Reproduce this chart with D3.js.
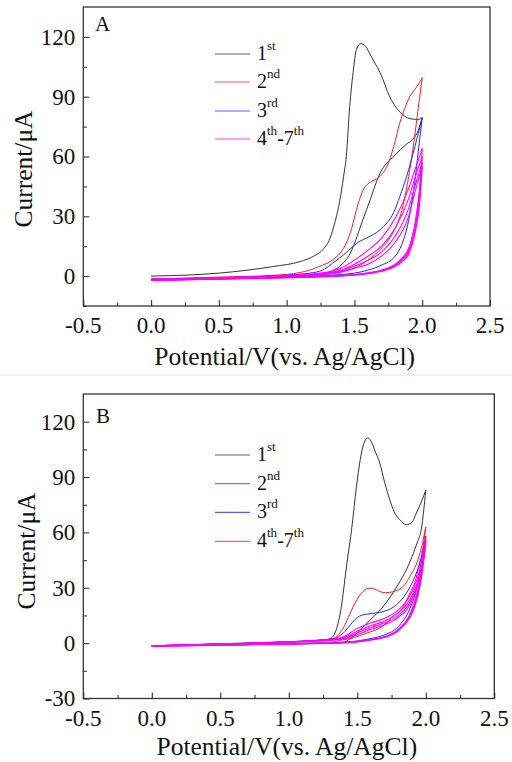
<!DOCTYPE html>
<html>
<head>
<meta charset="utf-8">
<script src="https://cdn.jsdelivr.net/npm/d3@7"></script>
<style>
  body { margin: 0; background: #fff; }
  svg { display: block; }
  text { font-family: "Liberation Serif", "Times New Roman", serif; fill: #111; }
</style>
</head>
<body>
<svg id="chart" width="512" height="762"></svg>
<script>
// ---- axis ticks and labels ----
const xTicks = [-0.5, 0, 0.5, 1, 1.5, 2, 2.5];
const xTickLabels = ["-0.5", "0.0", "0.5", "1.0", "1.5", "2.0", "2.5"];
const xMinorTicks = [-0.25, 0.25, 0.75, 1.25, 1.75, 2.25];
const yTicksA = [0, 30, 60, 90, 120];
const yMinorTicksA = [-15, 15, 45, 75, 105];
const yTicksB = [-30, 0, 30, 60, 90, 120];
const yMinorTicksB = [-15, 15, 45, 75, 105];
const panelLabels = ["A", "B"];
const xTitle = "Potential/V(vs. Ag/AgCl)";
const yTitle = "Current/\u03bcA";

// legend entries: [main, superscript, main, superscript]
const legendLabels = [["1", "st"], ["2", "nd"], ["3", "rd"], ["4", "th", "-7", "th"]];
const seriesColors = ["#333333", "#ff1a1a", "#2424ff", "#ff00ff"];

// ---- panel A: cyclic voltammograms, [potential V, current µA] ----
const a1Fwd = [[0,0],[0.5,1.5],[0.9,4.8],[1.1,7.3],[1.2,10],[1.27,13.5],[1.32,19],[1.36,28],[1.39,37],[1.42,50],[1.44,60],[1.465,85],[1.49,102],[1.515,113.8],[1.547,116.6],[1.58,115.5],[1.61,112],[1.65,107],[1.69,102],[1.76,90],[1.84,82],[1.91,79],[1.97,78.6],[2.0,79.5]];
const a1Rev = [[2.0,79.5],[1.97,73],[1.93,68.6],[1.88,66],[1.84,63.5],[1.79,60],[1.74,56.8],[1.69,51.8],[1.66,46.8],[1.62,39],[1.59,33.4],[1.55,26],[1.52,19.9],[1.47,11.6],[1.43,7.5],[1.39,4.8],[1.34,2.8],[1.29,1.5],[1.2,0.6],[1.1,0],[0.8,-0.6],[0.5,-1.1],[0,-2]];
const a2Fwd = [[0,-1.5],[0.5,-0.5],[0.9,0.4],[1.1,1.8],[1.24,4.8],[1.34,8.2],[1.4,12],[1.44,16.6],[1.48,24],[1.515,33.4],[1.545,40],[1.57,44],[1.61,46.8],[1.69,50.1],[1.74,55],[1.79,65],[1.835,77],[1.87,84],[1.91,90.3],[1.96,95],[2.0,99.5]];
const a2Rev = [[2.0,99.5],[1.97,84],[1.94,68],[1.9,50],[1.85,33],[1.8,24],[1.75,18],[1.7,14],[1.6,8],[1.5,4],[1.4,2],[1.3,1],[1.1,0],[0.5,-1.2],[0,-1.8]];
const a3Fwd = [[0,-1.5],[0.5,-0.8],[1.0,0.5],[1.2,1.8],[1.28,3.5],[1.34,6.5],[1.42,10.7],[1.49,14.9],[1.54,17.5],[1.59,19.1],[1.69,23.3],[1.74,26.7],[1.79,32],[1.835,40],[1.885,50],[1.946,65],[2.0,79.5]];
const a3Rev = [[2.0,79.5],[1.97,62],[1.95,50],[1.9,28],[1.85,16],[1.8,10],[1.7,5.5],[1.6,3],[1.5,1.5],[1.4,0.8],[1.2,0],[0.5,-1.3],[0,-2]];
const a4to7Fwd = [
  [[0,-1.5],[0.5,-0.8],[1.0,0.3],[1.2,1.2],[1.3,2],[1.4,4],[1.5,8],[1.6,13],[1.7,19],[1.8,29],[1.9,44],[1.95,54],[2.0,64]],
  [[0,-1.6],[0.5,-0.9],[1.0,0.2],[1.2,0.9],[1.3,1.6],[1.4,3],[1.5,6],[1.6,10],[1.7,15],[1.8,24],[1.9,39],[1.95,50],[2.0,60]],
  [[0,-1.7],[0.5,-1],[1.0,0.1],[1.2,0.7],[1.3,1.3],[1.4,2.5],[1.5,5],[1.6,8],[1.7,12],[1.8,20],[1.9,34],[1.95,46],[2.0,57]],
  [[0,-1.8],[0.5,-1.1],[1.0,0],[1.2,0.5],[1.3,1],[1.4,2],[1.5,4],[1.6,6],[1.7,10],[1.8,17],[1.9,30],[1.95,43],[2.0,55]]
];
const a4to7Rev = [
  [[2.0,64],[1.98,44],[1.95,28],[1.9,14],[1.85,9],[1.8,6],[1.7,3],[1.6,1.6],[1.5,0.8],[1.3,0],[1.0,-0.6],[0.5,-1.3],[0,-2]],
  [[2.0,60],[1.98,41],[1.95,26],[1.9,13],[1.85,8.4],[1.8,5.6],[1.7,2.8],[1.6,1.4],[1.5,0.7],[1.3,-0.1],[1.0,-0.7],[0.5,-1.4],[0,-2.1]],
  [[2.0,57],[1.98,38],[1.95,24],[1.9,12],[1.85,7.8],[1.8,5.2],[1.7,2.6],[1.6,1.3],[1.5,0.6],[1.3,-0.2],[1.0,-0.8],[0.5,-1.5],[0,-2.2]],
  [[2.0,55],[1.98,36],[1.95,22.5],[1.9,11],[1.85,7.2],[1.8,4.8],[1.7,2.4],[1.6,1.2],[1.5,0.5],[1.3,-0.2],[1.0,-0.8],[0.5,-1.5],[0,-2.2]]
];

// ---- panel B ----
const b1Fwd = [[0,-1.5],[0.5,-0.3],[1.0,0.8],[1.2,1.4],[1.28,2],[1.31,2.8],[1.34,6],[1.36,10.8],[1.38,18],[1.397,27],[1.415,38],[1.433,48],[1.458,61.4],[1.494,84.9],[1.53,103],[1.555,109.5],[1.574,111.2],[1.6,109.5],[1.63,104],[1.664,97.6],[1.7,87],[1.737,77.7],[1.77,71],[1.81,66.9],[1.858,64.2],[1.9,65.5],[1.931,70.5],[1.97,77],[2.0,83]];
const b1Rev = [[2.0,83],[1.985,72],[1.968,62],[1.94,55],[1.9,47],[1.86,40],[1.8,32],[1.74,25],[1.68,19],[1.6,13],[1.52,7],[1.45,2.5],[1.4,0.5],[1.3,-0.2],[1.0,-0.5],[0.5,-1],[0,-1.5]];
const b2Fwd = [[0,-1.5],[0.5,-0.5],[1.0,0.7],[1.25,1.8],[1.324,2.5],[1.36,4.5],[1.397,8.1],[1.435,14],[1.47,19.8],[1.505,24.5],[1.542,28],[1.591,29.8],[1.63,29.2],[1.664,28],[1.7,27.3],[1.737,27.5],[1.78,28.3],[1.81,29.3],[1.85,32],[1.883,36.1],[1.943,45.2],[1.975,54],[2.0,63]];
const b2Rev = [[2.0,63],[1.975,50],[1.955,43],[1.92,33],[1.883,27],[1.83,19],[1.76,14.4],[1.68,9],[1.567,5.4],[1.45,2.5],[1.37,1.5],[1.3,0.3],[1.0,-0.4],[0.5,-1],[0,-1.5]];
const b3Fwd = [[0,-1.5],[0.5,-0.5],[1.0,0.7],[1.25,1.8],[1.33,2.5],[1.397,5.4],[1.45,10],[1.494,13.6],[1.54,15.3],[1.591,15.9],[1.688,17.1],[1.74,18.5],[1.786,20.8],[1.858,27.1],[1.931,38],[1.97,47],[2.0,58]];
const b3Rev = [[2.0,58],[1.96,38],[1.92,26],[1.88,18],[1.8,9],[1.7,4.5],[1.6,2.5],[1.5,1.2],[1.4,0.5],[1.2,0],[1.0,-0.3],[0.5,-1],[0,-1.5]];
const b4to7Fwd = [
  [[0,-1.5],[0.5,-0.5],[1.0,0.7],[1.25,1.8],[1.35,2.5],[1.4,3.5],[1.5,8],[1.6,11],[1.7,13.5],[1.8,18],[1.9,28],[1.95,38],[2.0,57]],
  [[0,-1.5],[0.5,-0.5],[1.0,0.6],[1.25,1.6],[1.35,2.2],[1.45,4.5],[1.5,6.5],[1.6,9.5],[1.7,12],[1.8,16.5],[1.9,26],[1.95,36],[2.0,56]],
  [[0,-1.5],[0.5,-0.5],[1.0,0.5],[1.25,1.4],[1.35,2],[1.45,3.8],[1.5,5.5],[1.6,8.5],[1.7,11],[1.8,15],[1.9,24.5],[1.95,35],[2.0,55]],
  [[0,-1.5],[0.5,-0.5],[1.0,0.4],[1.25,1.2],[1.35,1.8],[1.45,3.2],[1.5,4.5],[1.6,7.5],[1.7,10],[1.8,14],[1.9,23],[1.95,34],[2.0,54]]
];
const b4to7Rev = [
  [[2.0,57],[1.96,35],[1.92,23],[1.88,15],[1.8,7.5],[1.7,3.5],[1.6,2],[1.5,1],[1.4,0.4],[1.2,0],[1.0,-0.3],[0.5,-1],[0,-1.5]],
  [[2.0,56],[1.96,34],[1.92,22],[1.88,14.5],[1.8,7.2],[1.7,3.4],[1.6,1.9],[1.5,0.9],[1.4,0.3],[1.2,-0.1],[1.0,-0.4],[0.5,-1.1],[0,-1.6]],
  [[2.0,55],[1.96,33],[1.92,21],[1.88,14],[1.8,7],[1.7,3.3],[1.6,1.8],[1.5,0.8],[1.4,0.2],[1.2,-0.1],[1.0,-0.4],[0.5,-1.1],[0,-1.6]],
  [[2.0,54],[1.96,32],[1.92,20],[1.88,13.5],[1.8,6.8],[1.7,3.2],[1.6,1.7],[1.5,0.7],[1.4,0.2],[1.2,-0.1],[1.0,-0.4],[0.5,-1.1],[0,-1.6]]
];

// ---- layout ----
const svg = d3.select("#chart");
svg.append("rect").attr("width", 512).attr("height", 762).attr("fill", "#fff");
svg.append("line").attr("x1", 0).attr("x2", 512).attr("y1", 375).attr("y2", 375)
  .attr("stroke", "#ececec").attr("stroke-width", 1.5);

const panels = [
  {
    label: panelLabels[0], box: { left: 83.3, right: 490, top: 7, bottom: 306 },
    yDomain: [-15, 135], yTicks: yTicksA, yMinor: yMinorTicksA,
    cycles: [[a1Fwd, a1Rev, 0], [a2Fwd, a2Rev, 1], [a3Fwd, a3Rev, 2]]
      .concat(a4to7Fwd.map((f, i) => [f, a4to7Rev[i], 3])),
    legendY: [54, 82, 111, 139], legendX: 215,
    xTitleY: 365, yTitleX: 32, yTitleY: 169, tickLabelY: 333, panelLabelPos: [95, 31]
  },
  {
    label: panelLabels[1], box: { left: 83.3, right: 494.3, top: 394, bottom: 698.5 },
    yDomain: [-30, 135], yTicks: yTicksB, yMinor: yMinorTicksB,
    cycles: [[b1Fwd, b1Rev, 0], [b2Fwd, b2Rev, 1], [b3Fwd, b3Rev, 2]]
      .concat(b4to7Fwd.map((f, i) => [f, b4to7Rev[i], 3])),
    legendY: [455, 483.7, 512.3, 541.3], legendX: 215,
    xTitleY: 755, yTitleX: 35, yTitleY: 551, tickLabelY: 726, panelLabelPos: [96, 423]
  }
];

panels.forEach(p => {
  const b = p.box;
  const x = d3.scaleLinear().domain([-0.5, 2.5]).range([b.left, b.right]);
  const y = d3.scaleLinear().domain(p.yDomain).range([b.bottom, b.top]);
  const g = svg.append("g");

  // curves: forward and reverse sweeps drawn as separate segments
  const line = d3.line().x(d => x(d[0])).y(d => y(d[1])).curve(d3.curveMonotoneX);
  const byV = arr => arr.slice().sort((m, n) => m[0] - n[0]);
  p.cycles.forEach(([fwd, rev, ci]) => {
    [fwd, rev].forEach(seg => {
      g.append("path")
        .attr("d", line(byV(seg)))
        .attr("fill", "none")
        .attr("stroke", seriesColors[ci])
        .attr("stroke-width", ci === 3 ? 1.1 : 1)
        .attr("stroke-linejoin", "round");
    });
  });

  // frame
  g.append("rect")
    .attr("x", b.left).attr("y", b.top)
    .attr("width", b.right - b.left).attr("height", b.bottom - b.top)
    .attr("fill", "none").attr("stroke", "#333").attr("stroke-width", 1.3);

  // inward ticks on bottom and left
  const xAxis = d3.axisBottom(x).tickValues(xTicks).tickSize(-6).tickFormat("");
  const xAxisMinor = d3.axisBottom(x).tickValues(xMinorTicks).tickSize(-3.5).tickFormat("");
  const yAxis = d3.axisLeft(y).tickValues(p.yTicks).tickSize(-6).tickFormat("");
  const yAxisMinor = d3.axisLeft(y).tickValues(p.yMinor).tickSize(-3.5).tickFormat("");
  [[xAxis, `translate(0,${b.bottom})`], [xAxisMinor, `translate(0,${b.bottom})`],
   [yAxis, `translate(${b.left},0)`], [yAxisMinor, `translate(${b.left},0)`]].forEach(([ax, tr]) => {
    const a = g.append("g").attr("transform", tr).call(ax);
    a.select(".domain").remove();
    a.selectAll("line").attr("stroke", "#333").attr("stroke-width", 1.1);
  });

  // tick labels
  g.selectAll(null).data(xTicks).enter().append("text")
    .attr("x", d => x(d)).attr("y", p.tickLabelY)
    .attr("text-anchor", "middle").attr("font-size", 23)
    .text((d, i) => xTickLabels[i]);
  g.selectAll(null).data(p.yTicks).enter().append("text")
    .attr("x", b.left - 8).attr("y", d => y(d)).attr("dy", "0.34em")
    .attr("text-anchor", "end").attr("font-size", 23)
    .text(d => String(d));

  // axis titles
  g.append("text").attr("x", (b.left + b.right) / 2 - 2).attr("y", p.xTitleY)
    .attr("text-anchor", "middle").attr("font-size", 25.5).text(xTitle);
  g.append("text")
    .attr("transform", `translate(${p.yTitleX},${p.yTitleY}) rotate(-90)`)
    .attr("text-anchor", "middle").attr("font-size", 25.5).text(yTitle);

  // panel letter
  g.append("text").attr("x", p.panelLabelPos[0]).attr("y", p.panelLabelPos[1])
    .attr("font-size", 21).text(p.label);

  // legend
  legendLabels.forEach((parts, i) => {
    const ly = p.legendY[i];
    g.append("line")
      .attr("x1", p.legendX).attr("x2", p.legendX + 35)
      .attr("y1", ly).attr("y2", ly)
      .attr("stroke", seriesColors[i]).attr("stroke-width", 1.2).attr("opacity", 0.75);
    const t = g.append("text").attr("x", p.legendX + 42).attr("y", ly + 6).attr("font-size", 20);
    parts.forEach((s, k) => {
      const sup = k % 2 === 1;
      t.append("tspan")
        .attr("font-size", sup ? 13 : 20)
        .attr("dy", k === 0 ? 0 : (sup ? -10 : 10))
        .text(s);
    });
  });
});
</script>
</body>
</html>
